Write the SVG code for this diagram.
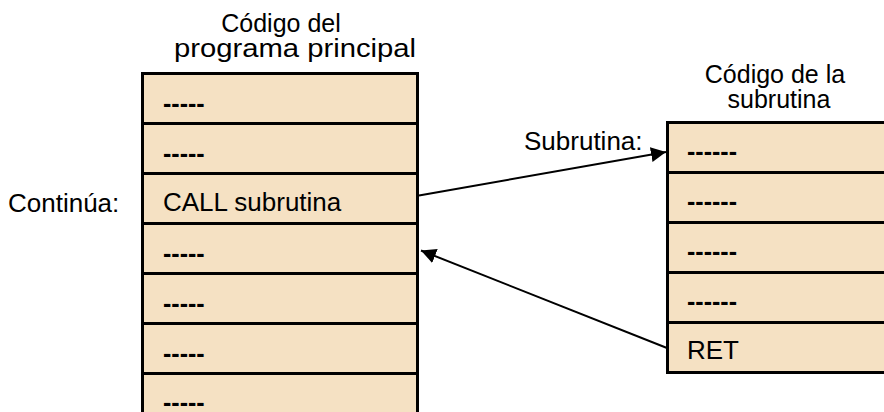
<svg xmlns="http://www.w3.org/2000/svg" width="884" height="412" viewBox="0 0 884 412">
<style>
text{font-family:"Liberation Sans",Arial,sans-serif;font-size:26px;fill:#000}
.mid{text-anchor:middle}
.title{font-size:25px}
.dash{font-weight:bold;font-size:25px}
.row{fill:#F5E1C3;stroke:#000;stroke-width:3}
.conn{stroke:#000;stroke-width:2;fill:none}
</style>
<defs>
<marker id="ah" markerUnits="userSpaceOnUse" markerWidth="16" markerHeight="16" refX="15" refY="7.5" orient="auto" viewBox="0 0 16 16">
<path d="M0,0 L15,7.5 L0,15 Z" fill="#000"/>
</marker>
</defs>
<g id="title-main">
<text class="mid title" x="281" y="32">Código del</text>
<text class="mid title" x="295" y="57" textLength="242" lengthAdjust="spacingAndGlyphs">programa principal</text>
</g>
<g id="title-sub">
<text class="mid title" x="775" y="83">Código de la</text>
<text class="mid title" x="779" y="108">subrutina</text>
</g>
<g id="label-continua"><text x="8" y="212">Continúa:</text></g>
<g id="label-subrutina"><text x="524" y="150">Subrutina:</text></g>
<g id="main-program">
<rect class="row" x="142.5" y="73.5" width="275" height="50"/>
<rect class="row" x="142.5" y="123.5" width="275" height="50"/>
<rect class="row" x="142.5" y="173.5" width="275" height="50"/>
<rect class="row" x="142.5" y="223.5" width="275" height="50"/>
<rect class="row" x="142.5" y="273.5" width="275" height="50"/>
<rect class="row" x="142.5" y="323.5" width="275" height="50"/>
<rect class="row" x="142.5" y="373.5" width="275" height="50"/>
<text class="dash" x="163" y="112">-----</text>
<text class="dash" x="163" y="162">-----</text>
<text x="163" y="211">CALL subrutina</text>
<text class="dash" x="163" y="262">-----</text>
<text class="dash" x="163" y="312">-----</text>
<text class="dash" x="163" y="362">-----</text>
<text class="dash" x="163" y="411">-----</text>
</g>
<g id="subroutine">
<rect class="row" x="667.5" y="122.5" width="230" height="50"/>
<rect class="row" x="667.5" y="172.5" width="230" height="50"/>
<rect class="row" x="667.5" y="222.5" width="230" height="50"/>
<rect class="row" x="667.5" y="272.5" width="230" height="50"/>
<rect class="row" x="667.5" y="322.5" width="230" height="50"/>
<text class="dash" x="687" y="160">------</text>
<text class="dash" x="687" y="210">------</text>
<text class="dash" x="687" y="260">------</text>
<text class="dash" x="687" y="310">------</text>
<text x="687" y="359">RET</text>
</g>
<g id="connectors">
<line class="conn" x1="419" y1="195.5" x2="666" y2="152" marker-end="url(#ah)"/>
<line class="conn" x1="667" y1="348" x2="421" y2="250.5" marker-end="url(#ah)"/>
</g>
</svg>
